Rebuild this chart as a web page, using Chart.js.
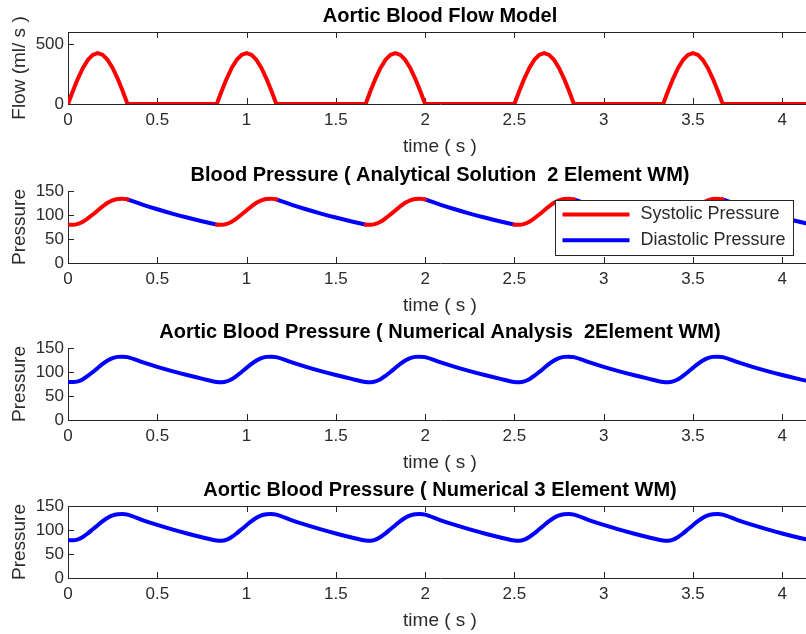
<!DOCTYPE html>
<html>
<head>
<meta charset="utf-8">
<title>Windkessel model</title>
<script src="https://cdn.jsdelivr.net/npm/chart.js@4.4.0/dist/chart.umd.min.js"></script>
<style>
  html, body { margin: 0; padding: 0; background: #fff; overflow: hidden; }
  body { width: 806px; height: 634px; position: relative; }
  .panel { position: absolute; left: 0; width: 812px; height: 158px; }
</style>
</head>
<body>
<div class="panel" style="top:0px"><canvas id="flowChart" width="812" height="158"></canvas></div>
<div class="panel" style="top:158.5px"><canvas id="analyticChart" width="812" height="158"></canvas></div>
<div class="panel" style="top:315.5px"><canvas id="numeric2Chart" width="812" height="158"></canvas></div>
<div class="panel" style="top:473.5px"><canvas id="numeric3Chart" width="812" height="158"></canvas></div>
<script>
// heart cycle (s)
const heartPeriod = 0.83333;
const systoleEnd = 0.33333;
const timeEnd = 4.16667;

const timeTicks = [0, 0.5, 1, 1.5, 2, 2.5, 3, 3.5, 4];
const flowTicks = [0, 500];
const pressureTicks = [0, 50, 100, 150];

// sample times, one row per beat
const sampleTime = [
  0, 0.0278, 0.0556, 0.0833, 0.1111, 0.1389, 0.1667, 0.1944, 0.2222, 0.25, 0.2778, 0.3056, 0.3333, 0.4167, 0.5, 0.5833, 0.6667, 0.75,
  0.8333, 0.8611, 0.8889, 0.9167, 0.9444, 0.9722, 1.0, 1.0278, 1.0556, 1.0833, 1.1111, 1.1389, 1.1667, 1.25, 1.3333, 1.4167, 1.5, 1.5833,
  1.6667, 1.6944, 1.7222, 1.75, 1.7778, 1.8056, 1.8333, 1.8611, 1.8889, 1.9167, 1.9444, 1.9722, 2.0, 2.0833, 2.1667, 2.25, 2.3333, 2.4167,
  2.5, 2.5278, 2.5556, 2.5833, 2.6111, 2.6389, 2.6667, 2.6944, 2.7222, 2.75, 2.7778, 2.8056, 2.8333, 2.9167, 3.0, 3.0833, 3.1667, 3.25,
  3.3333, 3.3611, 3.3889, 3.4167, 3.4444, 3.4722, 3.5, 3.5278, 3.5556, 3.5833, 3.6111, 3.6389, 3.6667, 3.75, 3.8333, 3.9167, 4.0, 4.0833,
  4.1667
];

// aortic inflow (ml/s)
const flowValue = [
  0, 110, 212, 300, 367, 410, 424, 410, 367, 300, 212, 110, 0, 0, 0, 0, 0, 0,
  0, 110, 212, 300, 367, 410, 424, 410, 367, 300, 212, 110, 0, 0, 0, 0, 0, 0,
  0, 110, 212, 300, 367, 410, 424, 410, 367, 300, 212, 110, 0, 0, 0, 0, 0, 0,
  0, 110, 212, 300, 367, 410, 424, 410, 367, 300, 212, 110, 0, 0, 0, 0, 0, 0,
  0, 110, 212, 300, 367, 410, 424, 410, 367, 300, 212, 110, 0, 0, 0, 0, 0, 0,
  0
];

// pressure, analytical 2-element solution
const analyticPressure = [
  80, 79.5, 81.5, 86, 93, 101, 109.5, 118, 125.5, 130.5, 133.5, 134, 132.5, 121.8, 112, 103, 94.7, 87.1,
  80, 79.5, 81.5, 86, 93, 101, 109.5, 118, 125.5, 130.5, 133.5, 134, 132.5, 121.8, 112, 103, 94.7, 87.1,
  80, 79.5, 81.5, 86, 93, 101, 109.5, 118, 125.5, 130.5, 133.5, 134, 132.5, 121.8, 112, 103, 94.7, 87.1,
  80, 79.5, 81.5, 86, 93, 101, 109.5, 118, 125.5, 130.5, 133.5, 134, 132.5, 121.8, 112, 103, 94.7, 87.1,
  80, 79.5, 81.5, 86, 93, 101, 109.5, 118, 125.5, 130.5, 133.5, 134, 132.5, 121.8, 112, 103, 94.7, 87.1,
  80
];

// pressure, numerical 2-element
const numeric2Pressure = [
  79.5, 79, 80.5, 85, 92, 100, 108.5, 117, 124, 129, 131.5, 132, 131, 120.5, 110.8, 101.9, 93.7, 86.2,
  79.3, 78.8, 80.5, 85, 92, 100, 108.5, 117, 124, 129, 131.5, 132, 131, 120.5, 110.8, 101.9, 93.7, 86.2,
  79.3, 78.8, 80.5, 85, 92, 100, 108.5, 117, 124, 129, 131.5, 132, 131, 120.5, 110.8, 101.9, 93.7, 86.2,
  79.3, 78.8, 80.5, 85, 92, 100, 108.5, 117, 124, 129, 131.5, 132, 131, 120.5, 110.8, 101.9, 93.7, 86.2,
  79.3, 78.8, 80.5, 85, 92, 100, 108.5, 117, 124, 129, 131.5, 132, 131, 120.5, 110.8, 101.9, 93.7, 86.2,
  79.3
];

// pressure, numerical 3-element
const numeric3Pressure = [
  79, 78.5, 80.5, 85.5, 93, 101.5, 110, 118.5, 125.5, 130.5, 133, 133.5, 132, 120.8, 110.6, 101.3, 92.8, 85,
  78, 77.5, 80, 85.5, 93, 101.5, 110, 118.5, 125.5, 130.5, 133, 133.5, 132, 120.8, 110.6, 101.3, 92.8, 85,
  78, 77.5, 80, 85.5, 93, 101.5, 110, 118.5, 125.5, 130.5, 133, 133.5, 132, 120.8, 110.6, 101.3, 92.8, 85,
  78, 77.5, 80, 85.5, 93, 101.5, 110, 118.5, 125.5, 130.5, 133, 133.5, 132, 120.8, 110.6, 101.3, 92.8, 85,
  78, 77.5, 80, 85.5, 93, 101.5, 110, 118.5, 125.5, 130.5, 133, 133.5, 132, 120.8, 110.6, 101.3, 92.8, 85,
  78
];

const FONT = "'Liberation Sans', Arial, Helvetica, sans-serif";
const axisColor = '#262626';
const textColor = '#2b2b2b';

// time within the current beat, wrapped so a beat start reads 0
function beatPhase(t) {
  let p = t % heartPeriod;
  if (p > heartPeriod - 0.001) p = 0;
  return p;
}

function points(values) {
  return sampleTime.map((t, i) => ({ x: t, y: values[i] }));
}

// MATLAB-style inward tick marks plus optional top/right box lines
const boxAxes = {
  id: 'boxAxes',
  beforeDatasetsDraw(chart, args, opts) {
    const { ctx, chartArea: a, scales: { x, y } } = chart;
    const len = 6;
    ctx.save();
    ctx.strokeStyle = axisColor;
    ctx.lineWidth = 1;
    ctx.beginPath();
    x.ticks.forEach(t => {
      const px = Math.round(x.getPixelForValue(t.value)) + 0.5;
      ctx.moveTo(px, a.bottom);
      ctx.lineTo(px, a.bottom - len);
      if (opts.box) {
        ctx.moveTo(px, a.top);
        ctx.lineTo(px, a.top + len);
      }
    });
    y.ticks.forEach(t => {
      const py = Math.round(y.getPixelForValue(t.value)) + 0.5;
      ctx.moveTo(a.left, py);
      ctx.lineTo(a.left + len, py);
      if (opts.box) {
        ctx.moveTo(a.right, py);
        ctx.lineTo(a.right - len, py);
      }
    });
    if (opts.box) {
      const top = Math.round(a.top) + 0.5;
      ctx.moveTo(a.left, top);
      ctx.lineTo(a.right, top);
      ctx.moveTo(a.right - 0.5, a.top);
      ctx.lineTo(a.right - 0.5, a.bottom);
    }
    ctx.stroke();
    ctx.restore();
  }
};

// framed legend sitting in the upper right of the plot
const framedLegend = {
  id: 'framedLegend',
  afterDatasetsDraw(chart, args, o) {
    if (!o.show) return;
    const { ctx, chartArea: a } = chart;
    const left = Math.round(a.right - o.right - o.width) + 0.5;
    const top = Math.round(a.top + o.top) + 0.5;
    ctx.save();
    ctx.fillStyle = '#fff';
    ctx.fillRect(left, top, o.width, o.height);
    ctx.strokeStyle = axisColor;
    ctx.lineWidth = 1;
    ctx.strokeRect(left, top, o.width, o.height);
    ctx.font = '18px ' + FONT;
    ctx.textBaseline = 'middle';
    ctx.fillStyle = textColor;
    chart.data.datasets.forEach((ds, i) => {
      const yy = top + o.firstRow + i * o.rowGap;
      ctx.strokeStyle = ds.borderColor;
      ctx.lineWidth = ds.borderWidth;
      ctx.beginPath();
      ctx.moveTo(left + o.lineStart, yy);
      ctx.lineTo(left + o.lineEnd, yy);
      ctx.stroke();
      ctx.fillText(ds.label, left + o.textStart, yy);
    });
    ctx.restore();
  }
};

Chart.register(boxAxes, framedLegend);

function makeChart(id, title, yLabel, yMax, yTicks, datasets, boxed, legendOpts) {
  return new Chart(document.getElementById(id), {
    type: 'line',
    data: { datasets: datasets },
    options: {
      responsive: false,
      animation: false,
      parsing: false,
      layout: { padding: 0 },
      elements: {
        point: { radius: 0 },
        line: { borderWidth: 4, borderJoinStyle: 'round', borderCapStyle: 'round' }
      },
      scales: {
        x: {
          type: 'linear',
          min: 0,
          max: timeEnd,
          afterBuildTicks: s => { s.ticks = timeTicks.map(v => ({ value: v })); },
          afterFit: s => { s.height = 54; },
          grid: { display: false, drawTicks: false },
          border: { color: axisColor, width: 1 },
          ticks: {
            padding: 6, color: textColor, font: { family: FONT, size: 17 },
            maxRotation: 0, autoSkip: false, callback: v => String(v)
          },
          title: { display: true, text: 'time ( s )', color: textColor, font: { family: FONT, size: 19 }, padding: 0 }
        },
        y: {
          type: 'linear',
          min: 0,
          max: yMax,
          afterBuildTicks: s => { s.ticks = yTicks.map(v => ({ value: v })); },
          afterFit: s => { s.width = 68; },
          grid: { display: false, drawTicks: false },
          border: { color: axisColor, width: 1 },
          ticks: { padding: 4, color: textColor, font: { family: FONT, size: 17 }, callback: v => String(v) },
          title: { display: true, text: yLabel, color: textColor, font: { family: FONT, size: 19 }, padding: { top: 8, bottom: 0 } }
        }
      },
      plugins: {
        legend: { display: false },
        tooltip: { enabled: false },
        title: {
          display: true,
          text: title,
          color: '#000',
          fullSize: false,
          font: { family: FONT, size: 20, weight: 'bold' },
          padding: { top: 4, bottom: 4 }
        },
        boxAxes: { box: boxed },
        framedLegend: legendOpts || { show: false }
      }
    }
  });
}

// flow
makeChart('flowChart', 'Aortic Blood Flow Model', 'Flow (ml/ s )', 600, flowTicks, [{
  label: 'Flow',
  data: points(flowValue),
  borderColor: '#ff0000',
  borderWidth: 4
}], true);

// analytical pressure, split into systole and diastole
const systolicPoints = sampleTime.map((t, i) => ({
  x: t, y: beatPhase(t) <= systoleEnd + 0.001 ? analyticPressure[i] : null
}));
const diastolicPoints = sampleTime.map((t, i) => {
  const p = beatPhase(t);
  return { x: t, y: (p >= systoleEnd - 0.001 || p < 0.001) ? analyticPressure[i] : null };
});

makeChart('analyticChart', 'Blood Pressure ( Analytical Solution  2 Element WM)', 'Pressure', 150, pressureTicks, [
  { label: 'Systolic Pressure', data: systolicPoints, borderColor: '#ff0000', borderWidth: 4, cubicInterpolationMode: 'monotone', spanGaps: false },
  { label: 'Diastolic Pressure', data: diastolicPoints, borderColor: '#0000ff', borderWidth: 4, cubicInterpolationMode: 'monotone', spanGaps: false }
], false, {
  show: true, right: 19, top: 9, width: 238, height: 55,
  firstRow: 14, rowGap: 25.7, lineStart: 7, lineEnd: 74, textStart: 85
});

makeChart('numeric2Chart', 'Aortic Blood Pressure ( Numerical Analysis  2Element WM)', 'Pressure', 150, pressureTicks, [{
  label: 'Pressure',
  data: points(numeric2Pressure),
  borderColor: '#0000ff',
  borderWidth: 4,
  cubicInterpolationMode: 'monotone'
}], false);

makeChart('numeric3Chart', 'Aortic Blood Pressure ( Numerical 3 Element WM)', 'Pressure', 150, pressureTicks, [{
  label: 'Pressure',
  data: points(numeric3Pressure),
  borderColor: '#0000ff',
  borderWidth: 4,
  cubicInterpolationMode: 'monotone'
}], true);
</script>
</body>
</html>
